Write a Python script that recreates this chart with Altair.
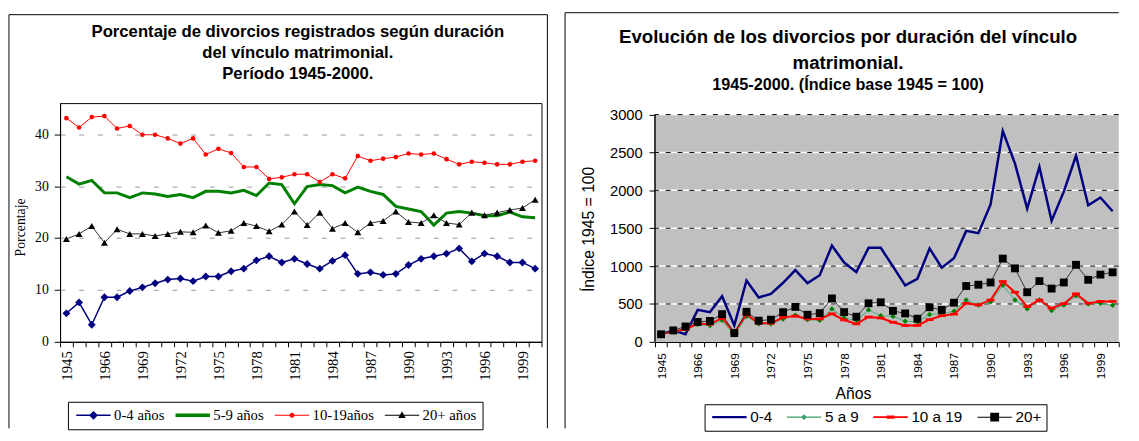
import json
import altair as alt
import pandas as pd

# ---------------- data ----------------
years = ["1945", "1955", "1965", "1966", "1967", "1968", "1969", "1970", "1971", "1972",
         "1973", "1974", "1975", "1976", "1977", "1978", "1979", "1980", "1981", "1982",
         "1983", "1984", "1985", "1986", "1987", "1988", "1989", "1990", "1991", "1992",
         "1993", "1994", "1995", "1996", "1997", "1998", "1999", "2000"]

series_left = ["0-4 años", "5-9 años", "10-19años", "20+ años"]
series_right = ["0-4", "5 a 9", "10 a 19", "20+"]

pct_0_4 = [5.5, 7.6, 3.3, 8.6, 8.6, 9.8, 10.5, 11.3, 12.0, 12.2, 11.7, 12.6, 12.6, 13.6, 14.1, 15.7,
           16.5, 15.3, 16.0, 15.0, 14.1, 15.6, 16.7, 13.1, 13.4, 12.9, 13.1, 14.8, 16.0, 16.5,
           17.0, 18.0, 15.5, 17.0, 16.5, 15.3, 15.3, 14.1]
pct_5_9 = [31.8, 30.4, 31.1, 28.7, 28.7, 27.8, 28.7, 28.5, 28.0, 28.4, 27.8, 29.0, 29.0, 28.7, 29.2, 28.2,
           30.6, 30.3, 26.6, 29.9, 30.3, 30.1, 28.7, 29.8, 29.0, 28.4, 26.1, 25.6, 25.1, 22.5,
           24.8, 25.1, 24.8, 24.3, 24.3, 25.0, 24.1, 23.9]
pct_10_19 = [43.1, 41.3, 43.3, 43.5, 41.1, 41.6, 39.9, 39.9, 39.2, 38.2, 39.2, 36.1, 37.2, 36.4, 33.7, 33.7,
             31.4, 31.7, 32.3, 32.3, 30.8, 32.3, 31.5, 35.8, 34.9, 35.3, 35.6, 36.3, 36.1, 36.3,
             35.2, 34.2, 34.7, 34.5, 34.2, 34.2, 34.7, 34.9]
pct_20 = [19.8, 20.8, 22.3, 19.1, 21.7, 20.8, 20.8, 20.4, 20.8, 21.2, 21.1, 22.4, 21.0, 21.4, 22.9, 22.3,
          21.3, 22.6, 25.1, 22.5, 24.9, 21.8, 22.9, 21.1, 22.9, 23.3, 25.1, 23.1, 22.9, 24.4,
          22.9, 22.6, 24.9, 24.4, 24.9, 25.4, 25.8, 27.4]

idx_0_4 = [100, 151, 100, 422, 392, 603, 215, 810, 586, 634, 780, 948, 776, 879, 1271, 1047,
           922, 1241, 1241, 996, 746, 832, 1233, 978, 1103, 1465, 1435, 1815, 2784, 2353,
           1758, 2310, 1599, 1983, 2457, 1802, 1905, 1724]
idx_5_9 = [100, 129, 164, 228, 215, 284, 90, 336, 237, 237, 302, 353, 293, 284, 435, 315,
           284, 422, 345, 336, 272, 263, 362, 371, 405, 552, 487, 526, 746, 552,
           435, 552, 414, 487, 608, 500, 509, 483]
idx_10_19 = [100, 138, 164, 241, 233, 315, 121, 362, 246, 246, 323, 340, 302, 302, 371, 289,
             237, 328, 315, 259, 216, 216, 293, 345, 366, 509, 487, 552, 797, 655,
             465, 552, 444, 504, 634, 509, 534, 534]
idx_20 = [100, 151, 203, 263, 276, 366, 116, 397, 280, 293, 392, 461, 358, 379, 573, 392,
          332, 509, 522, 409, 375, 306, 457, 422, 517, 737, 754, 784, 1099, 970,
          655, 802, 703, 784, 1017, 819, 888, 918]

pct_ticks = [0, 10, 20, 30, 40]
index_ticks = [0, 500, 1000, 1500, 2000, 2500, 3000]

# ---------------- tables ----------------
n = len(years)


def long_table(field, names, arrays):
    rows = []
    for name, arr in zip(names, arrays):
        for k, v in enumerate(arr):
            rows.append({"i": k, "year": years[k], field: name, "value": v})
    return pd.DataFrame(rows)


left_df = long_table("serie_l", series_left, [pct_0_4, pct_5_9, pct_10_19, pct_20])
right_df = long_table("serie_r", series_right, [idx_0_4, idx_5_9, idx_10_19, idx_20])
grid_df = pd.DataFrame({"value": index_ticks[1:]})
band_df = pd.DataFrame({"value": [index_ticks[-1]], "base": [index_ticks[0]]})
one_row = pd.DataFrame({"k": [0]})

# ---------------- geometry / styles ----------------
W_L, H_L = 490, 243
W_R, H_R = 472, 243
SANS = "Liberation Sans"
SERIF = "Liberation Serif"
RIGHT_TOP = 3000 * 243 / 231.3   # grey area ends at 3000, a little below the panel top

label_expr = "(datum.value + 0.5) % 3 == 0 ? " + json.dumps(years) + "[datum.value + 0.5] : ''"
boundaries = [k - 0.5 for k in range(n + 1)]


def make_x(width, font, size, pad, **title_kw):
    return alt.X(
        "i:Q",
        scale=alt.Scale(domain=[-0.5, n - 0.5], nice=False, zero=False),
        axis=alt.Axis(values=boundaries, labelExpr=label_expr, labelAngle=270,
                      labelOffset=width / n / 2, labelOverlap=False, labelFont=font,
                      labelFontSize=size, labelColor="black", labelPadding=pad,
                      tickSize=5, tickColor="black", domainColor="black", domainWidth=1.2,
                      grid=False, **title_kw),
    )


x_left = make_x(W_L, SERIF, 15, 4, title=None)
x_right = make_x(W_R, SANS, 12, 6, title="Años", titleFont=SANS, titleFontSize=16,
                 titleFontWeight="normal", titleColor="black", titleX=201.5, titleY=45,
                 titleBaseline="top")

y_left = alt.Y(
    "value:Q",
    scale=alt.Scale(domain=[0, 46], nice=False, zero=True),
    axis=alt.Axis(values=pct_ticks, grid=True, gridColor="#999999", gridDash=[5, 14], gridWidth=1,
                  labelFont=SERIF, labelFontSize=14, labelColor="black", labelPadding=6,
                  tickSize=6, tickColor="black", domainColor="black",
                  title="Porcentaje", titleFont=SERIF, titleFontSize=14, titleFontWeight="normal",
                  titleColor="black", titleX=-33, titleY=126),
)
y_right = alt.Y(
    "value:Q",
    scale=alt.Scale(domain=[0, RIGHT_TOP], nice=False, zero=True),
    axis=alt.Axis(values=index_ticks, format="d", grid=False, domain=False, labelFont=SANS,
                  labelFontSize=15, labelColor="black", labelPadding=7, tickSize=6,
                  tickColor="black", tickWidth=1,
                  title="Índice 1945 = 100", titleFont=SANS, titleFontSize=16,
                  titleFontWeight="normal", titleColor="black", titleX=-59.5, titleY=128),
)


def line_sym(t, marker=""):
    return f"M-3.5,-{t}H3.5V{t}H-3.5Z" + marker


DIAMOND_L = "M0,-0.9L0.9,0L0,0.9L-0.9,0Z"
DIAMOND_S = "M0,-0.6L0.6,0L0,0.6L-0.6,0Z"
CIRCLE = "M0.5,0A0.5,0.5,0,1,1,-0.5,0A0.5,0.5,0,1,1,0.5,0Z"
TRIANGLE = "M0,-0.8L0.75,0.55L-0.75,0.55Z"
SQUARE = "M-0.9,-0.9H0.9V0.9H-0.9Z"
DASH = "M-0.8,-0.35H0.8V0.35H-0.8Z"
DASH_MARK = "M-1,-0.34H1V0.34H-1Z"


def series_layers(df, field, s, X, Y, color, width, shape=None, mcolor=None, msize=None):
    base = alt.Chart(df).transform_filter(alt.datum[field] == s).encode(x=X, y=Y)
    out = [base.mark_line(color=color, strokeWidth=width)]
    if shape:
        out.append(base.mark_point(shape=shape, filled=True, color=mcolor, size=msize,
                                   opacity=1, strokeWidth=0))
    return out


def legend_layer(df, field, X, Y, names, colors, shapes, font, fsize, lx, ly, cpad, pad):
    leg = alt.Legend(orient="none", legendX=lx, legendY=ly, direction="horizontal", columns=4,
                     title=None, strokeColor="black", fillColor="white", padding=pad,
                     labelFont=font, labelFontSize=fsize, labelColor="black", labelLimit=400,
                     labelOffset=13.5, columnPadding=cpad, symbolOffset=12.5, symbolSize=100,
                     symbolStrokeWidth=0, symbolOpacity=1)
    return alt.Chart(df).transform_filter("false").mark_point(filled=True, opacity=1, size=100).encode(
        x=X, y=Y,
        color=alt.Color(f"{field}:N", scale=alt.Scale(domain=names, range=colors), legend=leg),
        shape=alt.Shape(f"{field}:N", scale=alt.Scale(domain=names, range=shapes), legend=leg),
    )


def frame_rules(segments):
    out = []
    for (a, b, c, d) in segments:
        out.append(alt.Chart(one_row).mark_rule(color="black", strokeWidth=1).encode(
            x=alt.value(a), x2=alt.value(b), y=alt.value(c), y2=alt.value(d)))
    return out


# ---------------- left panel ----------------
FL = "serie_l"
left_layers = frame_rules([(-52, -52, -90, 331), (-52, 496, -90, -90), (496, 496, -90, 331)])
left_layers += series_layers(left_df, FL, series_left[0], x_left, y_left, "#000080", 1.5, "diamond", "#000080", 64)
left_layers += series_layers(left_df, FL, series_left[1], x_left, y_left, "#008000", 3)
left_layers += series_layers(left_df, FL, series_left[2], x_left, y_left, "#FF0000", 1, "circle", "#FF0000", 22)
left_layers += series_layers(left_df, FL, series_left[3], x_left, y_left, "#333333", 1, "triangle-up", "#000000", 50)
left_layers.append(legend_layer(
    left_df, FL, x_left, y_left, series_left,
    ["#000080", "#008000", "#FF0000", "#000000"],
    [line_sym(0.15, DIAMOND_L), line_sym(0.35), line_sym(0.1, CIRCLE), line_sym(0.1, TRIANGLE)],
    SERIF, 15, 8, 304, 8, 6))

left = alt.layer(*left_layers).properties(
    width=W_L, height=H_L,
    view=alt.ViewBackground(fill="white", stroke="black", strokeWidth=1),
    title=alt.TitleParams(
        text=["Porcentaje de divorcios registrados según duración",
              "del vínculo matrimonial.", "Período 1945-2000."],
        font=SANS, fontSize=17, fontWeight="bold", color="black", lineHeight=21,
        anchor="middle", frame="group", offset=-69.5, dx=-3),
)

# ---------------- right panel ----------------
FR = "serie_r"
grey_band = alt.Chart(band_df).mark_rect(color="#C0C0C0").encode(y=y_right, y2="base:Q")
grid_white = alt.Chart(grid_df).mark_rule(color="white", strokeWidth=1.5).encode(y=y_right)
grid_dash = alt.Chart(grid_df).mark_rule(color="black", strokeWidth=1, strokeDash=[5, 7]).encode(y=y_right)
y_line = alt.Chart(band_df).mark_rule(color="black", strokeWidth=1.5).encode(
    x=alt.value(0), y=y_right, y2="base:Q")

right_layers = [grey_band, grid_white, grid_dash, y_line]
right_layers += frame_rules([(-91.5, -91.5, -92, 331), (-91.5, W_R, -92, -92)])
right_layers += series_layers(right_df, FR, series_right[0], x_right, y_right, "#000080", 2.5)
right_layers += series_layers(right_df, FR, series_right[1], x_right, y_right, "#5DB58B", 1.2, "diamond", "#008000", 30)
right_layers += series_layers(right_df, FR, series_right[2], x_right, y_right, "#FF0000", 2, DASH_MARK, "#FF0000", 64)
right_layers += series_layers(right_df, FR, series_right[3], x_right, y_right, "#333333", 1, "square", "#000000", 64)
right_layers.append(legend_layer(
    right_df, FR, x_right, y_right, series_right,
    ["#000080", "#3DA066", "#FF0000", "#000000"],
    [line_sym(0.25), line_sym(0.12, DIAMOND_S), line_sym(0.2, DASH), line_sym(0.1, SQUARE)],
    SANS, 15.5, 50.5, 306.5, 12, 5))

right = alt.layer(*right_layers).properties(
    width=W_R, height=H_R,
    view=alt.ViewBackground(fill="white", strokeWidth=0),
    title=alt.TitleParams(
        text=["Evolución de los divorcios por duración del vínculo", "matrimonial."],
        subtitle="1945-2000. (Índice base 1945 = 100)",
        font=SANS, fontSize=19, fontWeight="bold", color="black", lineHeight=26,
        subtitleFont=SANS, subtitleFontSize=16.5, subtitleFontWeight="bold", subtitleColor="black",
        subtitlePadding=5, anchor="middle", frame="group", offset=-83, dx=-39.5),
)

chart = (
    alt.hconcat(left, right, spacing=8.5)
    .resolve_scale(color="independent", shape="independent")
    .resolve_legend(color="independent", shape="independent")
    .properties(padding=0, background="white")
)

chart.save("out.html", embed_options={"renderer": "svg", "actions": False})
